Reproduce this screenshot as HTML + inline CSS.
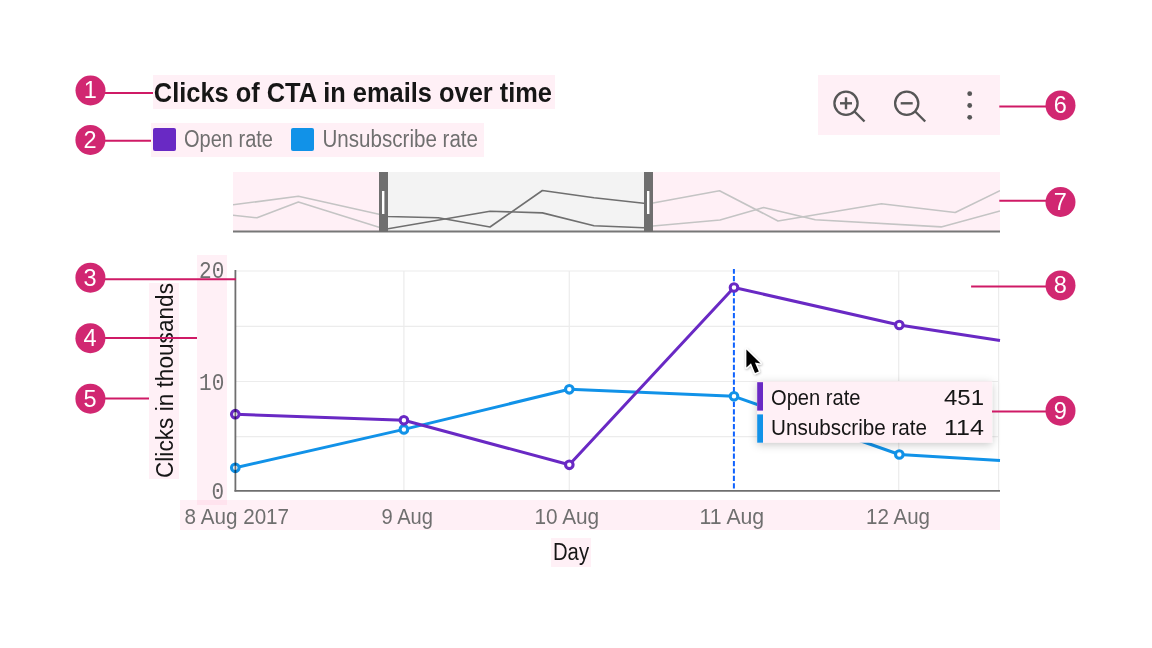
<!DOCTYPE html>
<html><head><meta charset="utf-8"><title>Chart anatomy</title>
<style>html,body{margin:0;padding:0;background:#fff;width:1152px;height:648px;overflow:hidden}svg{display:block}</style>
</head><body>
<svg width="1152" height="648" viewBox="0 0 1152 648"><rect x="153" y="75" width="402" height="34" fill="#fff0f6" />
<rect x="151" y="123" width="333" height="34" fill="#fff0f6" />
<rect x="818" y="75" width="182" height="60" fill="#fff0f6" />
<rect x="233" y="172" width="767" height="60" fill="#fff0f6" />
<rect x="197" y="255" width="30" height="250" fill="#fff0f6" />
<rect x="149" y="283" width="30" height="196" fill="#fff0f6" />
<rect x="180" y="500" width="820" height="30" fill="#fff0f6" />
<rect x="551" y="538" width="40" height="29" fill="#fff0f6" />
<rect x="197" y="500" width="30" height="5" fill="#ffe3ee" />
<text x="153.8" y="101.6" font-family='"Liberation Sans", sans-serif' font-size="28" font-weight="bold" fill="#161616" text-anchor="start" textLength="398.2" lengthAdjust="spacingAndGlyphs" >Clicks of CTA in emails over time</text>
<rect x="153" y="128" width="23" height="23" rx="2" fill="#6929c4"/>
<text x="184" y="147.4" font-family='"Liberation Sans", sans-serif' font-size="23" font-weight="normal" fill="#6f6f6f" text-anchor="start" textLength="89" lengthAdjust="spacingAndGlyphs" >Open rate</text>
<rect x="291" y="128" width="23" height="23" rx="2" fill="#1192e8"/>
<text x="322.5" y="147.4" font-family='"Liberation Sans", sans-serif' font-size="23" font-weight="normal" fill="#6f6f6f" text-anchor="start" textLength="155.5" lengthAdjust="spacingAndGlyphs" >Unsubscribe rate</text>
<circle cx="846" cy="103.3" r="11.6" fill="none" stroke="#565656" stroke-width="2.3"/>
<line x1="854.5" y1="111.5" x2="864.5" y2="121.5" stroke="#565656" stroke-width="2.4"/>
<line x1="840" y1="103.3" x2="852" y2="103.3" stroke="#565656" stroke-width="2.4"/>
<line x1="846" y1="97.3" x2="846" y2="109.3" stroke="#565656" stroke-width="2.4"/>
<circle cx="906.7" cy="103.3" r="11.6" fill="none" stroke="#565656" stroke-width="2.3"/>
<line x1="915.2" y1="111.5" x2="925.2" y2="121.5" stroke="#565656" stroke-width="2.4"/>
<line x1="900.7" y1="103.3" x2="912.7" y2="103.3" stroke="#565656" stroke-width="2.4"/>
<circle cx="969.7" cy="93.7" r="2.4" fill="#565656"/>
<circle cx="969.7" cy="105.5" r="2.4" fill="#565656"/>
<circle cx="969.7" cy="117.3" r="2.4" fill="#565656"/>
<rect x="388" y="172" width="256" height="59" fill="#f3f3f3" />
<defs><clipPath id="mmsel"><rect x="388" y="160" width="256" height="80"/></clipPath><clipPath id="mmuns"><path d="M233,160H388V240H233Z M644,160H1000V240H644Z"/></clipPath></defs>
<polyline points="233,204.8 298.4,196.3 379,214.2 388,216.5 438.3,217.7 490,227 542.4,190.5 594,197.8 643.7,203.2 653,203 719.5,190.7 778,221 881.4,203.8 955.2,212.5 1000,190.6" fill="none" stroke="#c4c4c4" stroke-width="1.6" stroke-linejoin="round" clip-path="url(#mmuns)"/>
<polyline points="233,215.3 257,217.8 298.4,202 379,227.2 388,228.7 490,211.2 542.4,212.9 594,225.8 643.7,227.7 653,226 720,220 763.6,207.5 815.3,219.7 941.2,226.9 1000,210.9" fill="none" stroke="#c4c4c4" stroke-width="1.6" stroke-linejoin="round" clip-path="url(#mmuns)"/>
<polyline points="233,204.8 298.4,196.3 379,214.2 388,216.5 438.3,217.7 490,227 542.4,190.5 594,197.8 643.7,203.2 653,203 719.5,190.7 778,221 881.4,203.8 955.2,212.5 1000,190.6" fill="none" stroke="#6f6f6f" stroke-width="1.6" stroke-linejoin="round" clip-path="url(#mmsel)"/>
<polyline points="233,215.3 257,217.8 298.4,202 379,227.2 388,228.7 490,211.2 542.4,212.9 594,225.8 643.7,227.7 653,226 720,220 763.6,207.5 815.3,219.7 941.2,226.9 1000,210.9" fill="none" stroke="#6f6f6f" stroke-width="1.6" stroke-linejoin="round" clip-path="url(#mmsel)"/>
<rect x="233" y="230.5" width="767" height="2" fill="#777777" />
<rect x="379" y="172" width="9" height="60" fill="#6f6f6f" />
<rect x="382" y="191" width="2.4" height="23" fill="#ffffff" />
<rect x="644" y="172" width="9" height="60" fill="#6f6f6f" />
<rect x="647" y="191" width="2.4" height="23" fill="#ffffff" />
<line x1="236" y1="271" x2="999" y2="271" stroke="#ececec" stroke-width="1.2"/>
<line x1="236" y1="326.3" x2="999" y2="326.3" stroke="#ececec" stroke-width="1.2"/>
<line x1="236" y1="381.5" x2="999" y2="381.5" stroke="#ececec" stroke-width="1.2"/>
<line x1="236" y1="436.7" x2="999" y2="436.7" stroke="#ececec" stroke-width="1.2"/>
<line x1="403.9" y1="271" x2="403.9" y2="491" stroke="#ececec" stroke-width="1.2"/>
<line x1="569.3" y1="271" x2="569.3" y2="491" stroke="#ececec" stroke-width="1.2"/>
<line x1="898.7" y1="271" x2="898.7" y2="491" stroke="#ececec" stroke-width="1.2"/>
<line x1="998.6" y1="271" x2="998.6" y2="491" stroke="#ececec" stroke-width="1.2"/>
<text x="199" y="278" font-family='"Liberation Mono", monospace' font-size="23" font-weight="normal" fill="#6f6f6f" text-anchor="start" textLength="25.3" lengthAdjust="spacingAndGlyphs" >20</text>
<text x="199" y="390" font-family='"Liberation Mono", monospace' font-size="23" font-weight="normal" fill="#6f6f6f" text-anchor="start" textLength="25.3" lengthAdjust="spacingAndGlyphs" >10</text>
<text x="211.5" y="499" font-family='"Liberation Mono", monospace' font-size="23" font-weight="normal" fill="#6f6f6f" text-anchor="start" textLength="12.6" lengthAdjust="spacingAndGlyphs" >0</text>
<g transform="translate(173.2,478) rotate(-90)">
<text x="0" y="0" font-family='"Liberation Sans", sans-serif' font-size="23" font-weight="normal" fill="#161616" text-anchor="start" textLength="195" lengthAdjust="spacingAndGlyphs" >Clicks in thousands</text>
</g>
<text x="184.6" y="523.5" font-family='"Liberation Sans", sans-serif' font-size="22.2" font-weight="normal" fill="#6f6f6f" text-anchor="start" textLength="104.5" lengthAdjust="spacingAndGlyphs" >8 Aug 2017</text>
<text x="381.5" y="523.5" font-family='"Liberation Sans", sans-serif' font-size="22.2" font-weight="normal" fill="#6f6f6f" text-anchor="start" textLength="51.5" lengthAdjust="spacingAndGlyphs" >9 Aug</text>
<text x="534.4" y="523.5" font-family='"Liberation Sans", sans-serif' font-size="22.2" font-weight="normal" fill="#6f6f6f" text-anchor="start" textLength="64.8" lengthAdjust="spacingAndGlyphs" >10 Aug</text>
<text x="699.6" y="523.5" font-family='"Liberation Sans", sans-serif' font-size="22.2" font-weight="normal" fill="#6f6f6f" text-anchor="start" textLength="64.6" lengthAdjust="spacingAndGlyphs" >11 Aug</text>
<text x="866" y="523.5" font-family='"Liberation Sans", sans-serif' font-size="22.2" font-weight="normal" fill="#6f6f6f" text-anchor="start" textLength="64" lengthAdjust="spacingAndGlyphs" >12 Aug</text>
<text x="553" y="560" font-family='"Liberation Sans", sans-serif' font-size="23" font-weight="normal" fill="#161616" text-anchor="start" textLength="36" lengthAdjust="spacingAndGlyphs" >Day</text>
<line x1="733.9" y1="269" x2="733.9" y2="491" stroke="#0f62fe" stroke-width="2" stroke-dasharray="5.2,2.2" stroke-dashoffset="0.4"/>
<polyline points="235.3,467.8 403.9,429.4 569.3,389.3 734,396.3 899.3,454.5 1000,460.6" fill="none" stroke="#1192e8" stroke-width="3" stroke-linejoin="round" />
<polyline points="235.3,414.2 403.9,420.3 569.3,464.8 734,287.5 899.3,325 1000,340.5" fill="none" stroke="#6929c4" stroke-width="3" stroke-linejoin="round" />
<circle cx="235.3" cy="467.8" r="3.8" fill="#fff" stroke="#1192e8" stroke-width="3.1"/>
<circle cx="403.9" cy="429.4" r="3.8" fill="#fff" stroke="#1192e8" stroke-width="3.1"/>
<circle cx="569.3" cy="389.3" r="3.8" fill="#fff" stroke="#1192e8" stroke-width="3.1"/>
<circle cx="734" cy="396.3" r="3.8" fill="#fff" stroke="#1192e8" stroke-width="3.1"/>
<circle cx="899.3" cy="454.5" r="3.8" fill="#fff" stroke="#1192e8" stroke-width="3.1"/>
<circle cx="235.3" cy="414.2" r="3.8" fill="#fff" stroke="#6929c4" stroke-width="3.1"/>
<circle cx="403.9" cy="420.3" r="3.8" fill="#fff" stroke="#6929c4" stroke-width="3.1"/>
<circle cx="569.3" cy="464.8" r="3.8" fill="#fff" stroke="#6929c4" stroke-width="3.1"/>
<circle cx="734" cy="287.5" r="3.8" fill="#fff" stroke="#6929c4" stroke-width="3.1"/>
<circle cx="899.3" cy="325" r="3.8" fill="#fff" stroke="#6929c4" stroke-width="3.1"/>
<line x1="235.4" y1="270" x2="235.4" y2="491.5" stroke="#6f6f6f" stroke-width="1.8" style="mix-blend-mode:multiply"/>
<line x1="234.5" y1="490.8" x2="1000" y2="490.8" stroke="#6f6f6f" stroke-width="1.8"/>
<defs><filter id="sh" x="-20%" y="-50%" width="140%" height="200%"><feDropShadow dx="0" dy="2" stdDeviation="4" flood-color="#000" flood-opacity="0.22"/></filter></defs>
<rect x="757.2" y="381.4" width="234.9" height="61.3" fill="#fff0f6" filter="url(#sh)"/>
<rect x="757.2" y="382.2" width="5.8" height="28.4" fill="#6929c4" />
<rect x="757.2" y="414.4" width="5.8" height="28.3" fill="#1192e8" />
<text x="771" y="404.6" font-family='"Liberation Sans", sans-serif' font-size="22" font-weight="normal" fill="#161616" text-anchor="start" textLength="89.5" lengthAdjust="spacingAndGlyphs" >Open rate</text>
<text x="984" y="404.6" font-family='"Liberation Sans", sans-serif' font-size="22" font-weight="normal" fill="#161616" text-anchor="end" textLength="40" lengthAdjust="spacingAndGlyphs" >451</text>
<text x="771" y="434.7" font-family='"Liberation Sans", sans-serif' font-size="22" font-weight="normal" fill="#161616" text-anchor="start" textLength="156" lengthAdjust="spacingAndGlyphs" >Unsubscribe rate</text>
<text x="984" y="434.7" font-family='"Liberation Sans", sans-serif' font-size="22" font-weight="normal" fill="#161616" text-anchor="end" textLength="40" lengthAdjust="spacingAndGlyphs" >114</text>
<defs><filter id="csh" x="-50%" y="-50%" width="200%" height="200%"><feDropShadow dx="0.5" dy="1" stdDeviation="0.8" flood-color="#000" flood-opacity="0.3"/></filter></defs>
<path d="M746.4,349.4 L746.4,367.6 L751,363.2 L755,373 L758.8,371.4 L754.9,362.6 L760.6,363.4 Z" fill="#000" stroke="#fff" stroke-width="2.6" stroke-linejoin="round" paint-order="stroke" filter="url(#csh)"/>
<line x1="100" y1="93" x2="153" y2="93" stroke="#cf1a66" stroke-width="2"/>
<circle cx="90.5" cy="90.5" r="15" fill="#d12771"/>
<text x="90.2" y="98.3" font-family='"Liberation Sans", sans-serif' font-size="23.5" font-weight="normal" fill="#ffffff" text-anchor="middle" >1</text>
<line x1="100" y1="140.7" x2="151" y2="140.7" stroke="#cf1a66" stroke-width="2"/>
<circle cx="90.4" cy="139.9" r="15" fill="#d12771"/>
<text x="90.10000000000001" y="147.70000000000002" font-family='"Liberation Sans", sans-serif' font-size="23.5" font-weight="normal" fill="#ffffff" text-anchor="middle" >2</text>
<line x1="100" y1="279.2" x2="236" y2="279.2" stroke="#cf1a66" stroke-width="2"/>
<circle cx="90.4" cy="277.7" r="15" fill="#d12771"/>
<text x="90.10000000000001" y="285.5" font-family='"Liberation Sans", sans-serif' font-size="23.5" font-weight="normal" fill="#ffffff" text-anchor="middle" >3</text>
<line x1="100" y1="337.9" x2="197" y2="337.9" stroke="#cf1a66" stroke-width="2"/>
<circle cx="90.4" cy="338.2" r="15" fill="#d12771"/>
<text x="90.10000000000001" y="346.0" font-family='"Liberation Sans", sans-serif' font-size="23.5" font-weight="normal" fill="#ffffff" text-anchor="middle" >4</text>
<line x1="100" y1="398.5" x2="149" y2="398.5" stroke="#cf1a66" stroke-width="2"/>
<circle cx="90.4" cy="398.7" r="15" fill="#d12771"/>
<text x="90.10000000000001" y="406.5" font-family='"Liberation Sans", sans-serif' font-size="23.5" font-weight="normal" fill="#ffffff" text-anchor="middle" >5</text>
<line x1="999.3" y1="106.6" x2="1050" y2="106.6" stroke="#cf1a66" stroke-width="2"/>
<circle cx="1060.5" cy="105.4" r="15" fill="#d12771"/>
<text x="1060.2" y="113.2" font-family='"Liberation Sans", sans-serif' font-size="23.5" font-weight="normal" fill="#ffffff" text-anchor="middle" >6</text>
<line x1="999.3" y1="200.7" x2="1050" y2="200.7" stroke="#cf1a66" stroke-width="2"/>
<circle cx="1060.5" cy="202" r="15" fill="#d12771"/>
<text x="1060.2" y="209.8" font-family='"Liberation Sans", sans-serif' font-size="23.5" font-weight="normal" fill="#ffffff" text-anchor="middle" >7</text>
<line x1="971.1" y1="286.4" x2="1050" y2="286.4" stroke="#cf1a66" stroke-width="2"/>
<circle cx="1060.5" cy="285.4" r="15" fill="#d12771"/>
<text x="1060.2" y="293.2" font-family='"Liberation Sans", sans-serif' font-size="23.5" font-weight="normal" fill="#ffffff" text-anchor="middle" >8</text>
<line x1="992" y1="411.4" x2="1050" y2="411.4" stroke="#cf1a66" stroke-width="2"/>
<circle cx="1060.5" cy="410.7" r="15" fill="#d12771"/>
<text x="1060.2" y="418.5" font-family='"Liberation Sans", sans-serif' font-size="23.5" font-weight="normal" fill="#ffffff" text-anchor="middle" >9</text></svg>
</body></html>
